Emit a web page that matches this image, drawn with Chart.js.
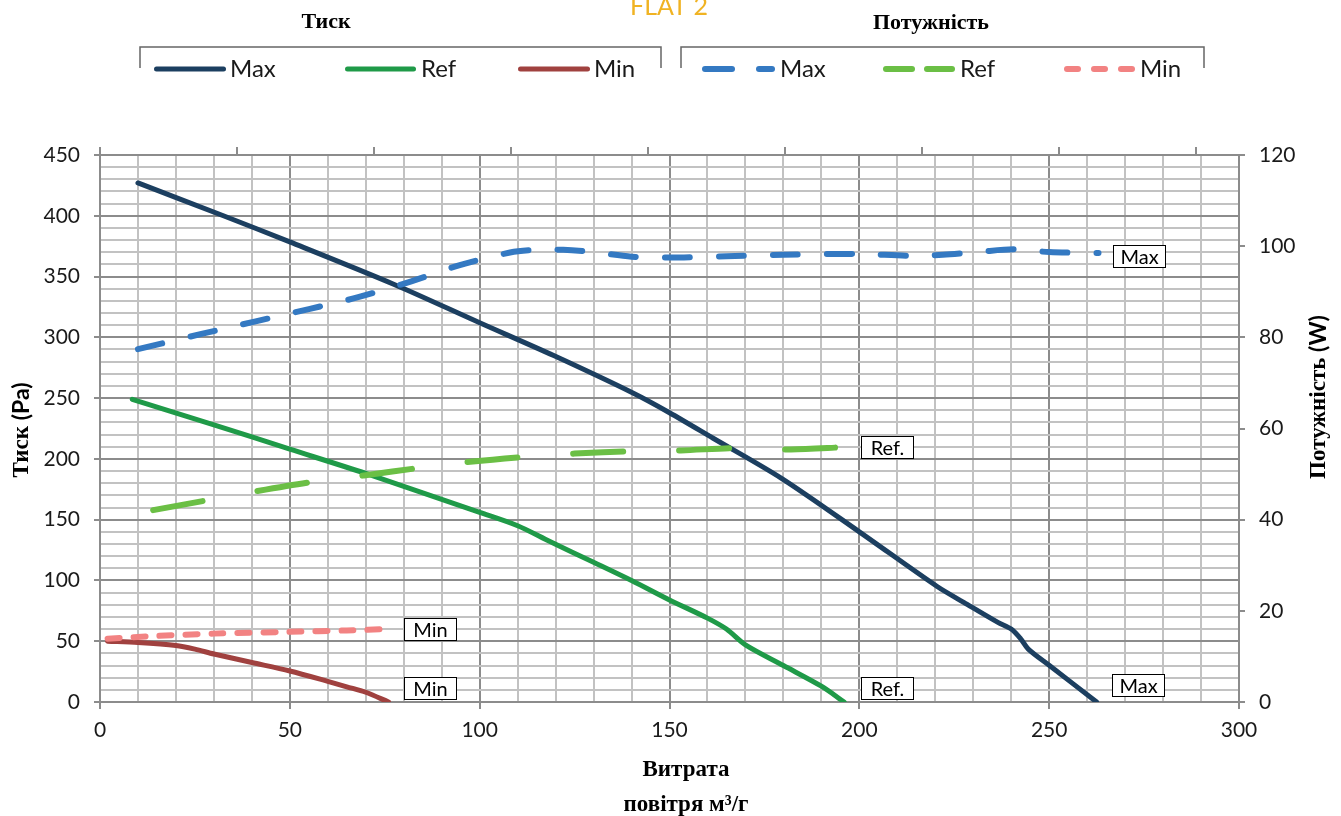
<!DOCTYPE html>
<html>
<head>
<meta charset="utf-8">
<title>FLAT 2</title>
<script src="https://cdn.jsdelivr.net/npm/chart.js@4.4.1/dist/chart.umd.min.js"></script>
<style>
  html, body { margin: 0; padding: 0; background: #ffffff; }
  #wrap { width: 1341px; height: 816px; position: relative; }
</style>
</head>
<body>
<div id="wrap"><canvas id="c" width="1341" height="816"></canvas></div>
<script>
// Pressure curves (Pa) against air flow (m³/h)
const pressMaxFlow = [10, 32.5, 50, 77.5, 100, 119.5, 140.5, 150, 161.5, 179.5, 200, 220.5, 227.5, 236.5, 240, 242.5, 244.5, 250.5, 262.5];
const pressMaxPa   = [427, 400, 378.5, 343.5, 312, 285, 254, 238, 217, 184, 140, 95, 82, 65.5, 60, 52, 43.5, 29, 0];

const pressRefFlow = [8.5, 30, 50, 70, 100, 110, 118.5, 130, 140, 150, 160, 165, 170, 180, 190, 196];
const pressRefPa   = [249, 228, 208, 188, 156, 145, 132, 115, 100, 84, 69, 60, 47, 30, 13, 0];

const pressMinFlow = [2, 10, 20, 25, 30, 40, 50, 60, 65, 70, 76];
const pressMinPa   = [50, 49, 46.5, 43.5, 39.5, 32.5, 25.5, 17, 12.5, 8, 0];

// Power curves (W) against air flow (m³/h)
const powerMaxFlow = [10, 27, 41, 55, 68, 82, 95, 108, 115, 122, 130, 140, 150, 165, 180, 200, 213, 222, 232, 241, 250, 263];
const powerMaxW    = [77.4, 80.8, 83.5, 86.2, 88.8, 92.3, 95.9, 98.6, 99.2, 99.2, 98.7, 97.7, 97.5, 97.8, 98.1, 98.3, 97.9, 98.1, 98.8, 99.3, 98.7, 98.5];

const powerRefFlow = [14, 28.5, 41.5, 56, 69.5, 84.5, 97.5, 112, 125, 140, 153, 168, 182, 196];
const powerRefW    = [42.1, 44.3, 46.3, 48.3, 49.7, 51.4, 52.7, 53.8, 54.5, 55.0, 55.2, 55.7, 55.4, 55.9];

const powerMinFlow = [2, 15, 30, 50, 65, 76];
const powerMinW    = [13.9, 14.5, 15.0, 15.4, 15.7, 16.0];

// Axis ranges and tick steps
const flowTicks  = { min: 0, max: 300, minor: 10, major: 50 };
const pressTicks = { min: 0, max: 450, minor: 10, major: 50 };
const powerTicks = { min: 0, max: 120, step: 20 };

const seriesNames = ['Max', 'Ref', 'Min'];

const COL = {
  pMax: '#1c3f60', pRef: '#1f9a48', pMin: '#a0413f',
  wMax: '#3479c2', wRef: '#6bbf45', wMin: '#f28282',
  gridMinor: '#c2c2c2', gridMajor: '#8c8c8c', text: '#1a1a1a', title: '#f0b323'
};
const SANS = 'Lato, "Open Sans", sans-serif';
const SERIF = '"Liberation Serif", "DejaVu Serif", serif';

function pts(xs, ys) { return xs.map((x, i) => ({ x: x, y: ys[i] })); }

function solid(label, xs, ys, color) {
  return {
    label: label, data: pts(xs, ys), yAxisID: 'y', xAxisID: 'x',
    borderColor: color, borderWidth: 5, borderCapStyle: 'round', borderJoinStyle: 'round',
    pointRadius: 0, tension: 0.3, fill: false, order: 2
  };
}
function dashed(label, xs, ys, color, dash) {
  return {
    label: label, data: pts(xs, ys), yAxisID: 'y1', xAxisID: 'x',
    borderColor: color, borderWidth: 6, borderCapStyle: 'round', borderJoinStyle: 'round',
    borderDash: dash, pointRadius: 0, tension: 0.3, fill: false, order: 1
  };
}

const datasets = [
  solid('Тиск ' + seriesNames[0], pressMaxFlow, pressMaxPa, COL.pMax),
  solid('Тиск ' + seriesNames[1], pressRefFlow, pressRefPa, COL.pRef),
  solid('Тиск ' + seriesNames[2], pressMinFlow, pressMinPa, COL.pMin),
  dashed('Потужність ' + seriesNames[0], powerMaxFlow, powerMaxW, COL.wMax, [25, 29]),
  dashed('Потужність ' + seriesNames[1], powerRefFlow, powerRefW, COL.wRef, [50, 56]),
  dashed('Потужність ' + seriesNames[2], powerMinFlow, powerMinW, COL.wMin, [12, 14])
];

// End-of-curve tags: dataset index, text, offset from the last point
const endTags = [
  { ds: 3, text: 'Max',  dx: 14, dy: 3 },
  { ds: 4, text: 'Ref.', dx: 17, dy: 0 },
  { ds: 5, text: 'Min',  dx: 15, dy: 0 },
  { ds: 2, text: 'Min',  dx: 15, dy: -14 },
  { ds: 1, text: 'Ref.', dx: 17, dy: -14 },
  { ds: 0, text: 'Max',  dx: 15, dy: -17 }
];

function isMajor(v, step) { return Math.abs(v % step) < 1e-6; }

function drawRotated(ctx, parts, cx, cy) {
  // parts: [{text, font}] drawn bottom-to-top, centred on (cx, cy)
  ctx.save();
  ctx.translate(cx, cy);
  ctx.rotate(-Math.PI / 2);
  let total = 0;
  parts.forEach(p => { ctx.font = p.font; p.w = ctx.measureText(p.text).width; total += p.w; });
  let x = -total / 2;
  ctx.textBaseline = 'middle';
  ctx.textAlign = 'left';
  ctx.fillStyle = '#000';
  parts.forEach(p => { ctx.font = p.font; ctx.fillText(p.text, x, 0); x += p.w; });
  ctx.restore();
}

function legendLine(ctx, segs, y, color, width) {
  ctx.save();
  ctx.strokeStyle = color;
  ctx.lineWidth = width;
  ctx.lineCap = 'round';
  segs.forEach(s => {
    ctx.beginPath();
    ctx.moveTo(s[0] + width / 2, y);
    ctx.lineTo(s[1] - width / 2, y);
    ctx.stroke();
  });
  ctx.restore();
}

const decorations = {
  id: 'decorations',
  afterDraw(chart) {
    const ctx = chart.ctx;
    ctx.save();

    // Title
    ctx.fillStyle = COL.title;
    ctx.font = '25px ' + SANS;
    ctx.textAlign = 'center';
    ctx.textBaseline = 'alphabetic';
    ctx.fillText('FLAT 2', 669, 15);

    // Legend group headings
    ctx.fillStyle = '#000';
    ctx.font = 'bold 22px ' + SERIF;
    ctx.textBaseline = 'middle';
    ctx.fillText('Тиск', 326, 22);
    ctx.fillText('Потужність', 931, 23);

    // Legend brackets
    ctx.strokeStyle = '#666666';
    ctx.lineWidth = 1.5;
    [[140, 661], [681, 1204]].forEach(b => {
      ctx.beginPath();
      ctx.moveTo(b[0], 68); ctx.lineTo(b[0], 47); ctx.lineTo(b[1], 47); ctx.lineTo(b[1], 68);
      ctx.stroke();
    });

    // Legend entries
    const ly = 69;
    legendLine(ctx, [[154, 226]], ly, COL.pMax, 5);
    legendLine(ctx, [[345, 416]], ly, COL.pRef, 5);
    legendLine(ctx, [[518, 590]], ly, COL.pMin, 5);
    legendLine(ctx, [[702, 735], [756, 775]], ly, COL.wMax, 6);
    legendLine(ctx, [[883, 915], [924, 955]], ly, COL.wRef, 6);
    legendLine(ctx, [[1064, 1081], [1091, 1108], [1118, 1135]], ly, COL.wMin, 6);
    ctx.fillStyle = COL.text;
    ctx.font = '24px ' + SANS;
    ctx.textAlign = 'left';
    ctx.textBaseline = 'middle';
    [[230, 0], [421, 1], [594, 2], [780, 0], [960, 1], [1140, 2]].forEach(e => {
      ctx.fillText(seriesNames[e[1]], e[0], ly);
    });

    // Axis titles
    drawRotated(ctx, [
      { text: 'Тиск ', font: 'bold 23px ' + SERIF },
      { text: '(Pa)', font: 'bold 23px ' + SANS }
    ], 22, 430);
    drawRotated(ctx, [
      { text: 'Потужність ', font: 'bold 23px ' + SERIF },
      { text: '(W)', font: 'bold 23px ' + SANS }
    ], 1319, 397);
    ctx.fillStyle = '#000';
    ctx.font = 'bold 23px ' + SERIF;
    ctx.textAlign = 'center';
    ctx.textBaseline = 'middle';
    ctx.fillText('Витрата', 686, 770);
    ctx.fillText('повітря м³/г', 686, 805);

    // End-of-curve tags
    const xs = chart.scales.x;
    ctx.font = '20px ' + SANS;
    ctx.lineWidth = 1;
    endTags.forEach(t => {
      const ds = chart.data.datasets[t.ds];
      const last = ds.data[ds.data.length - 1];
      const ys = chart.scales[ds.yAxisID];
      const px = xs.getPixelForValue(last.x) + t.dx;
      const py = ys.getPixelForValue(last.y) + t.dy;
      const w = 52, h = 22;
      const left = Math.round(px) + 0.5, top = Math.round(py - h / 2) + 0.5;
      ctx.fillStyle = '#ffffff';
      ctx.fillRect(left, top, w, h);
      ctx.strokeStyle = '#000000';
      ctx.strokeRect(left, top, w, h);
      ctx.fillStyle = '#000';
      ctx.textAlign = 'center';
      ctx.textBaseline = 'middle';
      ctx.fillText(t.text, left + w / 2, top + h / 2 + 1);
    });

    ctx.restore();
  }
};

const tickFont = { family: SANS, size: 21 };

new Chart(document.getElementById('c'), {
  type: 'line',
  data: { datasets: datasets },
  options: {
    responsive: false,
    devicePixelRatio: 1,
    animation: false,
    layout: { padding: 0 },
    plugins: { legend: { display: false }, tooltip: { enabled: false }, title: { display: false } },
    scales: {
      x: {
        type: 'linear', position: 'bottom',
        min: flowTicks.min, max: flowTicks.max,
        ticks: {
          stepSize: flowTicks.minor, autoSkip: false, maxRotation: 0, padding: 9,
          color: COL.text, font: tickFont,
          callback: v => isMajor(v, flowTicks.major) ? v : ''
        },
        grid: {
          color: c => (c.tick && isMajor(c.tick.value, flowTicks.major)) ? COL.gridMajor : COL.gridMinor,
          tickColor: c => (c.tick && isMajor(c.tick.value, flowTicks.major)) ? COL.gridMajor : 'rgba(0,0,0,0)',
          lineWidth: 2, tickLength: 7
        },
        border: { display: true, color: COL.gridMajor, width: 2 },
        afterFit: s => { s.height = 114; }
      },
      x2: {
        type: 'linear', position: 'top',
        min: 0, max: 1139 / 137,
        ticks: { display: false, stepSize: 1, autoSkip: false, includeBounds: false },
        grid: { drawOnChartArea: false, color: COL.gridMajor, lineWidth: 2, tickLength: 8 },
        border: { display: false },
        afterFit: s => { s.height = 155; }
      },
      y: {
        type: 'linear', position: 'left',
        min: pressTicks.min, max: pressTicks.max,
        ticks: {
          stepSize: pressTicks.minor, autoSkip: false, padding: 14,
          color: COL.text, font: tickFont,
          callback: v => isMajor(v, pressTicks.major) ? v : ''
        },
        grid: {
          color: c => (c.tick && isMajor(c.tick.value, pressTicks.major)) ? COL.gridMajor : COL.gridMinor,
          tickColor: c => (c.tick && isMajor(c.tick.value, pressTicks.major)) ? COL.gridMajor : 'rgba(0,0,0,0)',
          lineWidth: 2, tickLength: 6
        },
        border: { display: true, color: COL.gridMajor, width: 2 },
        afterFit: s => { s.width = 100; }
      },
      y1: {
        type: 'linear', position: 'right',
        min: powerTicks.min, max: powerTicks.max,
        ticks: { stepSize: powerTicks.step, autoSkip: false, padding: 14, color: COL.text, font: tickFont },
        grid: { drawOnChartArea: false, color: COL.gridMajor, lineWidth: 2, tickLength: 6 },
        border: { display: true, color: COL.gridMajor, width: 2 },
        afterFit: s => { s.width = 102; }
      }
    }
  },
  plugins: [decorations]
});
</script>
</body>
</html>
